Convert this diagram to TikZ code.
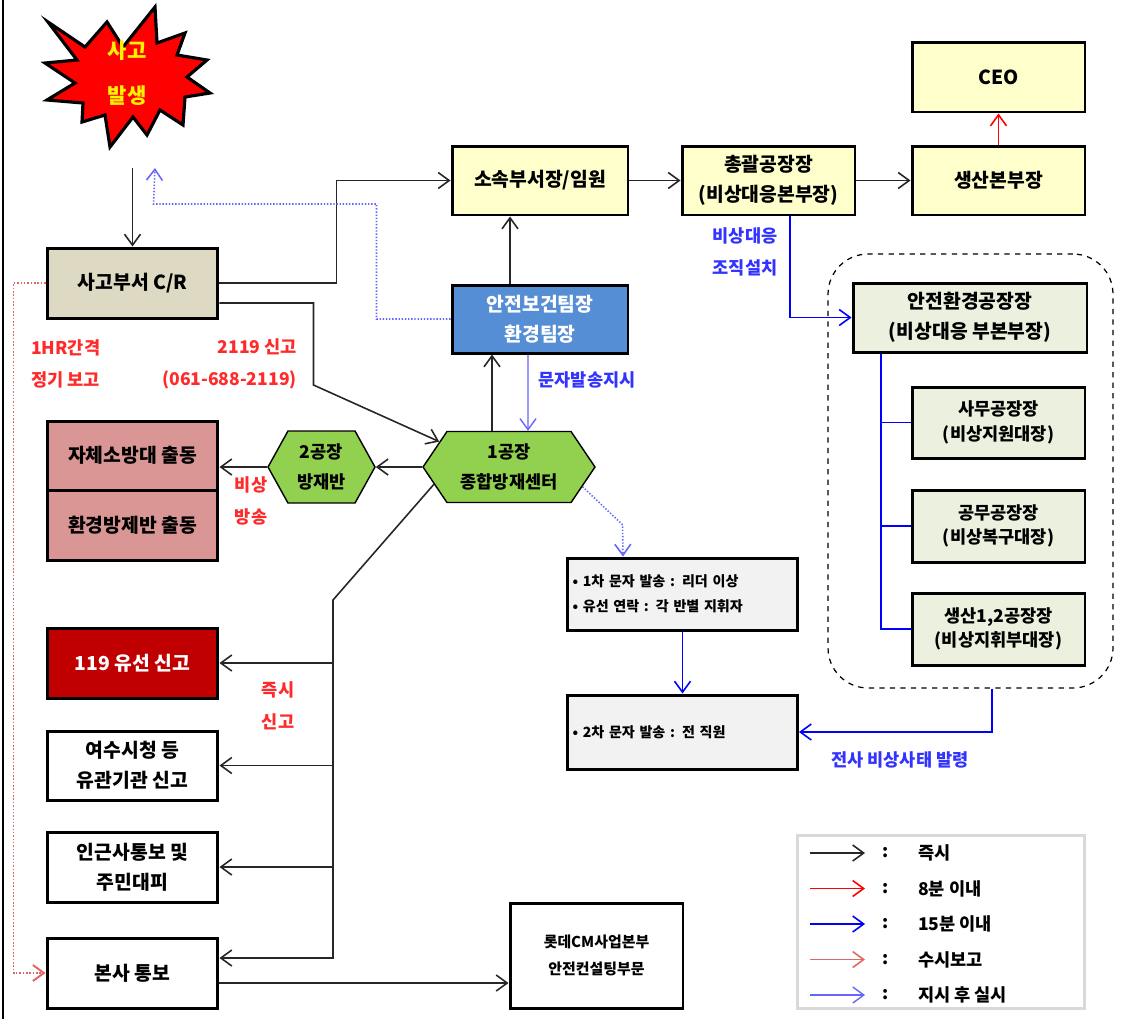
\documentclass[tikz,border=0pt]{standalone}
\usepackage{fontspec}
\setmainfont{Noto Sans CJK KR}
\usepackage{tikz}
\usetikzlibrary{arrows.meta,shapes.symbols}
\definecolor{crbeige}{HTML}{DDD9C3}
\definecolor{lyellow}{HTML}{FFFFCC}
\definecolor{hblue}{HTML}{558ED5}
\definecolor{hgreen}{HTML}{92D050}
\definecolor{pinkbox}{HTML}{D99694}
\definecolor{darkred}{HTML}{C00000}
\definecolor{ltgreen}{HTML}{EBF1DE}
\definecolor{lgray}{HTML}{F2F2F2}
\definecolor{lgborder}{HTML}{D9D9D9}
\definecolor{repred}{HTML}{E06666}
\definecolor{ordblue}{HTML}{6666FF}
\definecolor{lblred}{HTML}{FF2A2A}
\definecolor{lblblue}{HTML}{3333FF}
\definecolor{burstred}{HTML}{FF0000}
\tikzset{
  >={Straight Barb[length=2.2mm,width=3.2mm]},
  box/.style={draw, line width=1.7pt, minimum width=3.42cm, minimum height=1.4cm, inner sep=2pt, align=center, font=\bfseries\fontsize{11}{17}\selectfont},
  subbox/.style={box, fill=ltgreen, minimum width=3.46cm, minimum height=1.44cm, font=\bfseries\fontsize{10}{14}\selectfont},
  hexa/.style={signal, signal to=east and west, draw, line width=0.8pt, fill=hgreen, align=center, inner sep=1pt, font=\bfseries\fontsize{10}{17}\selectfont},
  imm/.style={->, line width=0.9pt, black!85},
  min8/.style={->, line width=0.9pt, red},
  min15/.style={->, line width=0.9pt, blue},
  report/.style={->, line width=0.9pt, repred},
  ordered/.style={->, line width=0.8pt, ordblue},
  redlbl/.style={text=lblred, align=center, font=\bfseries\fontsize{10}{18}\selectfont},
  bluelbl/.style={text=lblblue, align=center, font=\bfseries\fontsize{10}{18}\selectfont},
  lgtext/.style={font=\bfseries\fontsize{10}{12}\selectfont}
}
\begin{document}
\begin{tikzpicture}[x=0.02cm, y=-0.02cm]
\useasboundingbox (0,0) rectangle (1128,1019);
\draw[line width=0.6pt] (3,0) -- (3,1019);

\draw[fill=burstred, line width=1.8pt, line join=miter] (48,22) -- (85,47) -- (107,22) -- (123,47) -- (155,7) -- (157,43) -- (185,33) -- (177,55) -- (207,60) -- (187,77) -- (210,93) -- (185,97) -- (183,125) -- (160,110) -- (147,135) -- (133,117) -- (110,147) -- (105,115) -- (82,122) -- (83,103) -- (47,100) -- (75,83) -- (45,63) -- (77,60) -- cycle;
\node[text=yellow, align=center, font=\bfseries\fontsize{12}{26}\selectfont] (acc) at (127,73) {사고\\발생};
\coordinate (accOut) at (132.5,168);
\coordinate (accIn) at (155,168);

\node[box, fill=crbeige] (cr) at (132.5,283) {사고부서 C/R};
\node[box, fill=lyellow, minimum width=3.52cm, minimum height=1.38cm] (sosok) at (540,180.5) {소속부서장/임원};
\node[box, fill=lyellow, minimum width=3.46cm, minimum height=1.38cm] (chong) at (768.5,180.5) {총괄공장장\\(비상대응본부장)};
\node[box, fill=lyellow, minimum width=3.46cm, minimum height=1.38cm] (prod) at (998.5,180.5) {생산본부장};
\node[box, fill=lyellow, minimum width=3.46cm] (ceo) at (998.5,77) {CEO};
\node[box, fill=hblue, text=white, minimum width=3.52cm, minimum height=1.36cm] (htl) at (540,319) {안전보건팀장\\환경팀장};
\node[hexa, minimum width=3.44cm, minimum height=1.42cm, signal pointer angle=112] (hex1) at (509,467) {1공장\\종합방재센터};
\node[hexa, minimum width=2.14cm, minimum height=1.44cm, signal pointer angle=122] (hex2) at (321.5,467) {2공장\\방재반};
\node[box, fill=pinkbox, minimum height=1.38cm] (fire) at (132.5,455.5) {자체소방대 출동};
\node[box, fill=pinkbox] (envr) at (132.5,525) {환경방제반 출동};
\node[box, fill=darkred, text=white] (t119) at (132.5,663) {119 유선 신고};
\node[box, fill=white, minimum height=1.38cm] (yeosu) at (132.5,765.5) {여수시청 등\\유관기관 신고};
\node[box, fill=white] (ingeun) at (132.5,867) {인근사통보 및\\주민대피};
\node[box, fill=white] (bonsa) at (132.5,973) {본사 통보};
\node[box, fill=white, minimum width=3.46cm, minimum height=2.1cm, font=\bfseries\fontsize{8.5}{15}\selectfont] (lotte) at (596.5,955.5) {롯데CM사업본부\\안전컨설팅부문};
\node[box, fill=lgray, minimum width=4.6cm, minimum height=1.44cm, text width=4.4cm, align=left, font=\bfseries\fontsize{8}{14}\selectfont] (msg1) at (682.5,594) {• 1차 문자 발송 : 리더 이상\\• 유선 연락 : 각 반별 지휘자};
\node[box, fill=lgray, minimum width=4.6cm, minimum height=1.48cm, text width=4.4cm, align=left, font=\bfseries\fontsize{8}{14}\selectfont] (msg2) at (682.5,732) {• 2차 문자 발송 : 전 직원};

\node[draw, dashed, line width=0.7pt, rounded corners=0.8cm, minimum width=5.7cm, minimum height=8.68cm] (grp) at (970.5,471) {};
\node[box, fill=ltgreen, minimum width=4.68cm, minimum height=1.38cm] (sehead) at (970,317.5) {안전환경공장장\\(비상대응 부본부장)};
\node[subbox, minimum height=1.42cm] (samu) at (998.5,422.5) {사무공장장\\(비상지원대장)};
\node[subbox] (gongmu) at (998.5,526) {공무공장장\\(비상복구대장)};
\node[subbox] (prod12) at (998.5,629) {생산1,2공장장\\(비상지휘부대장)};

\draw[imm] (accOut) -- (cr.north);
\draw[imm] (cr.east) -- ++(117,0) |- (sosok.west);
\draw[imm] ([yshift=-0.4cm]cr.east) -- ++(94,0) -- ++(0,82) -- (hex1.160);
\draw[imm] (sosok.east) -- (chong.west);
\draw[imm] (chong.east) -- (prod.west);
\draw[min8] (prod.north) -- (ceo.south);
\draw[imm] ([xshift=-0.6cm]htl.north) -- ([xshift=-0.6cm]sosok.south);
\draw[imm] ([xshift=-0.34cm]hex1.north) -- ([xshift=-0.96cm]htl.south);
\draw[ordered] ([xshift=-0.24cm]htl.south) -- ([xshift=0.38cm]hex1.north);
\draw[ordered, densely dotted, line width=0.9pt] (htl.west) -- ++(-74,0) -- ++(0,-115) -- ++(-223,0) -- (accIn);
\draw[report, densely dotted, line width=1.1pt] (cr.west) -- ++(-32,0) |- (bonsa.west);
\draw[imm] (hex1.west) -- (hex2.east);
\draw[imm] (hex2.west) -- (hex2.west -| fire.east);

\coordinate (trunk) at (333,600);
\coordinate (bsTop) at ([yshift=0.3cm]bonsa.east);
\coordinate (bsLow) at ([yshift=-0.2cm]bonsa.east);
\draw[imm] (hex1.193) -- (trunk) |- (bsTop);
\foreach \n in {t119,yeosu,ingeun}
  \draw[imm] (trunk |- \n.east) -- (\n.east);
\draw[imm] (bsLow) -- (bsLow -| lotte.west);

\draw[ordered, densely dotted, line width=0.9pt] (hex1.-15) -- ++(40,38) -- ([xshift=-1.19cm]msg1.north);
\draw[min15] (msg1.south) -- (msg2.north);
\draw[min15] ([xshift=0.43cm]chong.south) |- (sehead.west);
\draw[min15] ([xshift=0.43cm]grp.south) |- (msg2.east);
\coordinate (tree) at ([xshift=-1.78cm]sehead.south);
\foreach \n in {samu,gongmu,prod12}
  \draw[min15, -] (tree) |- (\n.west);

\node[redlbl, align=left, anchor=west] (hrlbl) at (25,364) {1HR간격\\정기 보고};
\node[redlbl, align=right, anchor=east] (tellbl) at (303,364) {2119 신고\\(061-688-2119)};
\node[redlbl] (bclbl) at (251,501) {비상\\방송};
\node[redlbl] (nowlbl) at (278,706) {즉시\\신고};
\node[bluelbl] (orglbl) at (745,252) {비상대응\\조직설치};
\node[bluelbl] (smslbl) at (587,380) {문자발송지시};
\node[bluelbl] (alllbl) at (900,760) {전사 비상사태 발령};

\node[draw=lgborder, line width=1.7pt, minimum width=5.76cm, minimum height=3.46cm] (legend) at (941,921.5) {};
\foreach \s/\t [count=\i from 0] in {imm/즉시, min8/8분 이내, min15/15분 이내, report/수시보고, ordered/지시 후 실시} {
  \coordinate (la\i) at (810,{853+35.5*\i});
  \coordinate (lb\i) at (865,{853+35.5*\i});
  \draw[\s] (la\i) -- (lb\i);
  \node[lgtext] (lc\i) at (886,{853+35.5*\i}) {:};
  \node[lgtext, anchor=west] (lg\i) at (912,{853+35.5*\i}) {\t};
}
\end{tikzpicture}
\end{document}
